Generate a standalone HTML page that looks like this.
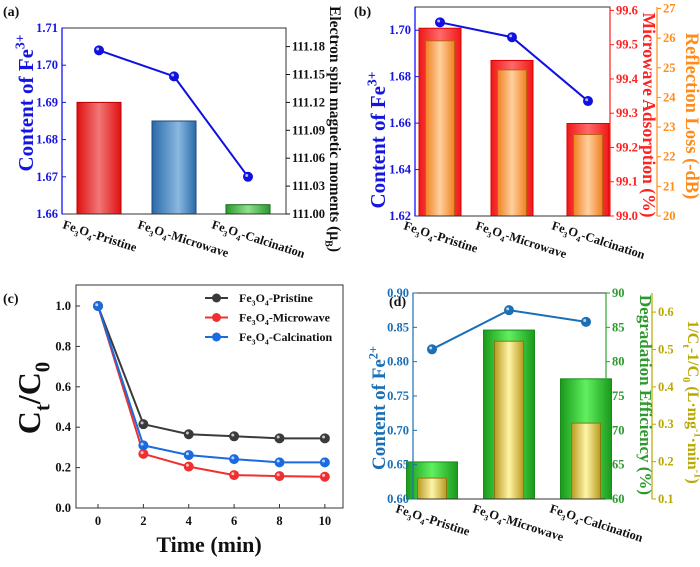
<!DOCTYPE html>
<html><head><meta charset="utf-8">
<style>
html,body{margin:0;padding:0;background:#fff;}
svg, svg text, svg tspan{font-family:"Liberation Serif","Times New Roman",serif;font-weight:bold;}
</style></head>
<body>
<svg id="fig" width="700" height="562" viewBox="0 0 700 562">
<defs>
<linearGradient id="gRed" x1="0" x2="1"><stop offset="0" stop-color="#e01010"/><stop offset="0.5" stop-color="#f07878"/><stop offset="1" stop-color="#e01010"/></linearGradient>
<linearGradient id="gBlue" x1="0" x2="1"><stop offset="0" stop-color="#2a6aa8"/><stop offset="0.6" stop-color="#8ab8e0"/><stop offset="1" stop-color="#2a6aa8"/></linearGradient>
<linearGradient id="gGreen" x1="0" x2="1"><stop offset="0" stop-color="#2a9a2a"/><stop offset="0.5" stop-color="#90e090"/><stop offset="1" stop-color="#2a9a2a"/></linearGradient>
<linearGradient id="gRed2" x1="0" x2="1"><stop offset="0" stop-color="#f01818"/><stop offset="0.5" stop-color="#ff6a6a"/><stop offset="1" stop-color="#f01818"/></linearGradient>
<linearGradient id="gOrange" x1="0" x2="1"><stop offset="0" stop-color="#f08020"/><stop offset="0.5" stop-color="#ffd0a0"/><stop offset="1" stop-color="#f08020"/></linearGradient>
<linearGradient id="gGreen2" x1="0" x2="1"><stop offset="0" stop-color="#1a9a1a"/><stop offset="0.5" stop-color="#60f060"/><stop offset="1" stop-color="#1a9a1a"/></linearGradient>
<linearGradient id="gOlive" x1="0" x2="1"><stop offset="0" stop-color="#b89a20"/><stop offset="0.5" stop-color="#fff5a8"/><stop offset="1" stop-color="#b89a20"/></linearGradient>
</defs>
</svg>
<script>
// ---- data ----
const categories = ["Pristine","Microwave","Calcination"];
const aFe3 = [1.704, 1.697, 1.670];
const aSpin = [111.12, 111.10, 111.01];
const aLeftTicks = [1.66,1.67,1.68,1.69,1.70,1.71];
const aRightTicks = [111.00,111.03,111.06,111.09,111.12,111.15,111.18];
const bFe3 = [1.7034, 1.697, 1.6695];
const bMicro = [99.548, 99.454, 99.27];
const bRL = [25.91, 24.93, 22.75];
const bLeftTicks = [1.62,1.64,1.66,1.68,1.70];
const bRedTicks = [99.0,99.1,99.2,99.3,99.4,99.5,99.6];
const bOrTicks = [20,21,22,23,24,25,26,27];
const cTime = [0,2,4,6,8,10];
const cPristine = [1, 0.415, 0.365, 0.355, 0.345, 0.345];
const cMicrowave = [1, 0.268, 0.205, 0.163, 0.158, 0.155];
const cCalcination = [1, 0.31, 0.262, 0.242, 0.226, 0.226];
const cYTicks = [0,0.2,0.4,0.6,0.8,1.0];
const dFe2 = [0.818, 0.875, 0.858];
const dDeg = [65.4, 84.6, 77.5];
const dRate = [0.156, 0.522, 0.303];
const dLeftTicks = [0.60,0.65,0.70,0.75,0.80,0.85,0.90];
const dGreenTicks = [60,65,70,75,80,85,90];
const dOliveTicks = [0.1,0.2,0.3,0.4,0.5,0.6];

const svg = document.getElementById('fig');
const NS = "http://www.w3.org/2000/svg";
function mk(tag, attrs, parent){const e=document.createElementNS(NS,tag);for(const k in attrs)e.setAttribute(k,attrs[k]);(parent||svg).appendChild(e);return e;}
function lin(d0,d1,r0,r1){return v=>r0+(v-d0)/(d1-d0)*(r1-r0);}
function rich(t, parts, fs){
  let shift=0;
  parts.forEach(p=>{
    const s=mk('tspan',{},t);
    let target=0;
    if(p[1]==='sub'){target=fs*0.3;s.setAttribute('font-size',fs*0.65);}
    else if(p[1]==='sup'){target=-fs*0.4;s.setAttribute('font-size',fs*0.65);}
    else s.setAttribute('font-size',fs);
    const dy=target-shift; shift=target;
    if(dy!==0) s.setAttribute('dy',dy);
    s.textContent=p[0];
  });
}

function yAxis(x, scale, ticks, fmt, color, side, fs, name){
  const g=mk('g',{});
  
  
  ticks.forEach(t=>{
    const y=scale(t);
    mk('line',{x1:x,x2:x+4,y1:y,y2:y,stroke:color,'stroke-width':1},g);
    const tx=mk('text',{x:side==='left'?x-4:x+6,y:y+4,'font-size':fs,fill:color,'text-anchor':side==='left'?'end':'start'},g);
    tx.textContent=fmt(t);
  });
}
function vTitle(x,y,rot,color,fs,parts,name){
  const t=mk('text',{transform:`translate(${x},${y}) rotate(${rot})`,'text-anchor':'middle','font-size':fs,fill:color});
  
  
  rich(t,parts,fs);
  return t;
}
function xLabels(centers,y){
  categories.forEach((c,i)=>{
    const t=mk('text',{transform:`translate(${centers[i]-37},${y}) rotate(18)`,'font-size':12,fill:'#111'});
    
    
    rich(t,[['Fe'],['3','sub'],['O'],['4','sub'],['-'+c]],12.5);
  });
}
function panelLabel(x,y,txt){const t=mk('text',{x:x,y:y,'font-size':14,fill:'#111'});t.textContent=txt;}
function box(x0,y0,x1,y1,name){const r=mk('rect',{x:x0,y:y0,width:x1-x0,height:y1-y0,fill:'none',stroke:'#333','stroke-width':1});return r;}
function bar(cx,w,y,base,fill,stroke,name){const r=mk('rect',{x:cx-w/2,y:y,width:w,height:base-y,fill:fill,stroke:stroke,'stroke-width':1});}
function polyline(xs,ys,color,name){const pts=xs.map((x,i)=>x+','+ys[i]).join(' ');const p=mk('polyline',{points:pts,fill:'none',stroke:color,'stroke-width':2});}
function dot(x,y,color,name){const c=mk('circle',{cx:x,cy:y,r:4.5,fill:color,stroke:color});mk('circle',{cx:x-1.3,cy:y-1.3,r:1.5,fill:'#fff',opacity:0.7});}

// ---- Panel (a) ----
(function(){
  const L=62,R=286,T=28,B=214, centers=[99,174,248];
  const yl=lin(1.66,1.71,B,T), yr=lin(111.0,111.2,B,T);
  panelLabel(3,16,'(a)');
  const fills=['url(#gRed)','url(#gBlue)','url(#gGreen)'], strokes=['#b00','#1a4a80','#1a6a1a'];
  aSpin.forEach((v,i)=>bar(centers[i],44,yr(v),B,fills[i],strokes[i],'bar-a-'+categories[i].toLowerCase()));
  box(L,T,R,B,'plot-area-a');
  mk('line',{x1:L,x2:L,y1:T,y2:B,stroke:'#0000ff','stroke-width':1.2});
  yAxis(L,yl,aLeftTicks,t=>t.toFixed(2),'#1515e0','left',12.5,'y-axis-left-a');
  yAxis(R,yr,aRightTicks,t=>t.toFixed(2),'#111','right',12.5,'y-axis-right-a');
  const ys=aFe3.map(yl);
  polyline(centers,ys,'#1010e0','line-a-fe3');
  ys.forEach((y,i)=>dot(centers[i],y,'#1010e0','point-a-'+categories[i].toLowerCase()));
  vTitle(33,103,-90,'#1515e0',21,[['Content of Fe'],['3+','sup']],'y-axis-title-left-a');
  vTitle(330,129,90,'#111',15.5,[['Electron spin magnetic moments (μ'],['B','sub'],[')']],'y-axis-title-right-a');
  xLabels(centers,228);
})();

// ---- Panel (b) ----
(function(){
  const L=415,R=610,T=7,B=216, centers=[440,512,588];
  const yl=lin(1.62,1.71,B,T), yr=lin(99.0,99.61,B,T), yo=lin(20,27.05,B,T);
  panelLabel(354,16,'(b)');
  bMicro.forEach((v,i)=>bar(centers[i],42,yr(v),B,'url(#gRed2)','#d00','bar-b-microwave-'+categories[i].toLowerCase()));
  bRL.forEach((v,i)=>bar(centers[i],29,yo(v),B,'url(#gOrange)','#c06010','bar-b-rl-'+categories[i].toLowerCase()));
  box(L,T,R,B,'plot-area-b');
  mk('line',{x1:L,x2:L,y1:T,y2:B,stroke:'#0000ff','stroke-width':1.2});
  mk('line',{x1:R,x2:R,y1:T,y2:B,stroke:'#ff2020','stroke-width':1.2});
  mk('line',{x1:657,x2:657,y1:T,y2:B,stroke:'#ff8c1a','stroke-width':1.2});
  yAxis(L,yl,bLeftTicks,t=>t.toFixed(2),'#1515e0','left',12.5,'y-axis-left-b');
  yAxis(R,yr,bRedTicks,t=>t.toFixed(1),'#ff2020','right',12.5,'y-axis-red-b');
  yAxis(657,yo,bOrTicks,t=>String(t),'#ff8c1a','right',12.5,'y-axis-orange-b');
  const ys=bFe3.map(yl);
  polyline(centers,ys,'#1010e0','line-b-fe3');
  ys.forEach((y,i)=>dot(centers[i],y,'#1010e0','point-b-'+categories[i].toLowerCase()));
  vTitle(385,140,-90,'#1515e0',21,[['Content of Fe'],['3+','sup']],'y-axis-title-left-b');
  vTitle(643,115,90,'#ff2020',17.5,[['Microwave Adsorption (%)']],'y-axis-title-red-b');
  vTitle(686,116,90,'#ff8c1a',18.5,[['Reflection Loss (-dB)']],'y-axis-title-orange-b');
  xLabels(centers,229);
})();

// ---- Panel (c) ----
(function(){
  const L=76,R=343,T=285,B=508;
  const xs=lin(-0.97,10.8,L,R), ys=lin(0,1.104,B,T);
  panelLabel(3,303,'(c)');
  box(L,T,R,B,'plot-area-c');
  cYTicks.forEach(t=>{const y=ys(t);mk('line',{x1:L,x2:L+4,y1:y,y2:y,stroke:'#333'});const tx=mk('text',{x:L-5,y:y+4,'text-anchor':'end','font-size':12.5,fill:'#111'});tx.textContent=t.toFixed(1);});
  cTime.forEach(t=>{const x=xs(t);mk('line',{x1:x,x2:x,y1:B,y2:B-4,stroke:'#333'});const tx=mk('text',{x:x,y:B+17,'text-anchor':'middle','font-size':12.5,fill:'#111'});tx.textContent=String(t);});
  const series=[['pristine',cPristine,'#3a3a3a'],['microwave',cMicrowave,'#f03030'],['calcination',cCalcination,'#1a6ae0']];
  series.forEach(s=>{
    polyline(cTime.map(xs),s[1].map(ys),s[2],'line-c-'+s[0]);
    s[1].forEach((v,i)=>dot(xs(cTime[i]),ys(v),s[2],'point-c-'+s[0]+'-'+i));
  });
  const names=['Pristine','Microwave','Calcination'];
  series.forEach((s,i)=>{
    const y=298+i*19.5;
    const g=mk('g',{});
    
    
    mk('line',{x1:205,x2:228,y1:y,y2:y,stroke:s[2],'stroke-width':2},g);
    mk('circle',{cx:216.5,cy:y,r:4.5,fill:s[2]},g);
    const t=mk('text',{x:239,y:y+4,'font-size':12,fill:'#111'},g);
    rich(t,[['Fe'],['3','sub'],['O'],['4','sub'],['-'+names[i]]],12);
  });
  vTitle(40,398,-90,'#111',32,[['C'],['t','sub'],['/C'],['0','sub']],'y-axis-title-c');
  const xt=mk('text',{x:209,y:552,'text-anchor':'middle','font-size':22,fill:'#111'});
  xt.textContent='Time (min)';
  
  
})();

// ---- Panel (d) ----
(function(){
  const L=413,R=606,T=293,B=499, centers=[432,509,586];
  const yl=lin(0.60,0.90,B,T), yg=lin(60,90,B,T), yo=lin(0.1,0.651,B,T);
  panelLabel(389,306,'(d)');
  dDeg.forEach((v,i)=>bar(centers[i],51,yg(v),B,'url(#gGreen2)','#1a8a1a','bar-d-degradation-'+categories[i].toLowerCase()));
  dRate.forEach((v,i)=>bar(centers[i],29,yo(v),B,'url(#gOlive)','#8a7a10','bar-d-rate-'+categories[i].toLowerCase()));
  box(L,T,R,B,'plot-area-d');
  mk('line',{x1:L,x2:L,y1:T,y2:B,stroke:'#1a6fb5','stroke-width':1.2});
  mk('line',{x1:R,x2:R,y1:T,y2:B,stroke:'#2ea82e','stroke-width':1.2});
  mk('line',{x1:652,x2:652,y1:T,y2:B,stroke:'#b8a800','stroke-width':1.2});
  yAxis(L,yl,dLeftTicks,t=>t.toFixed(2),'#1a6fb5','left',12.5,'y-axis-left-d');
  yAxis(R,yg,dGreenTicks,t=>String(t),'#2e9a2e','right',12.5,'y-axis-green-d');
  yAxis(652,yo,dOliveTicks,t=>t.toFixed(1),'#b8a800','right',12.5,'y-axis-olive-d');
  const ys=dFe2.map(yl);
  polyline(centers,ys,'#1a6fb5','line-d-fe2');
  ys.forEach((y,i)=>dot(centers[i],y,'#1a6fb5','point-d-'+categories[i].toLowerCase()));
  vTitle(385,408,-90,'#1a6fb5',19,[['Content of Fe'],['2+','sup']],'y-axis-title-left-d');
  vTitle(640,395,90,'#2e9a2e',17,[['Degradation Efficiency (%)']],'y-axis-title-green-d');
  vTitle(688,402,90,'#b8a800',16,[['1/C'],['t','sub'],['-1/C'],['0','sub'],[' (L·mg'],['-1','sup'],['·min'],['-1','sup'],[')']],'y-axis-title-olive-d');
  xLabels(centers,512);
})();
</script>
</body></html>
